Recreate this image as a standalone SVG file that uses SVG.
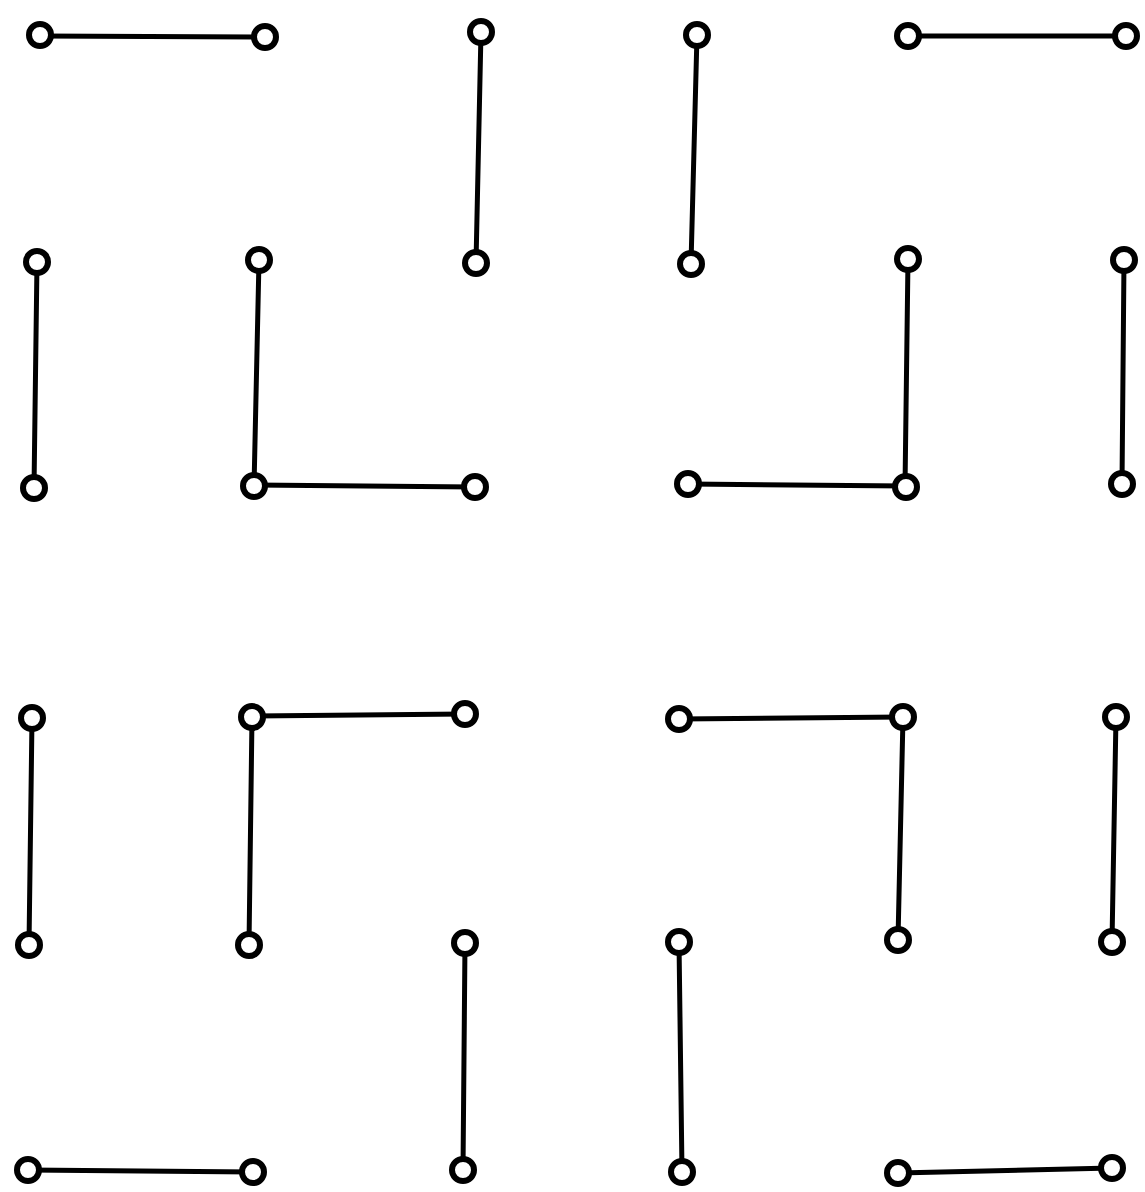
<svg xmlns="http://www.w3.org/2000/svg" width="1145" height="1192" viewBox="0 0 1145 1192">
<style>
.n{fill:#fff;stroke:#000;stroke-width:6}
.e{stroke:#000;stroke-width:5;fill:none;stroke-linecap:round}
</style>
<rect width="1145" height="1192" fill="#fff"/>
<g id="connectors">
<line class="e" x1="40" y1="36" x2="265" y2="37"/>
<line class="e" x1="481" y1="32" x2="476" y2="263"/>
<line class="e" x1="697" y1="35" x2="691" y2="264"/>
<line class="e" x1="908" y1="36" x2="1126" y2="36"/>
<line class="e" x1="37" y1="262" x2="34" y2="488"/>
<line class="e" x1="259" y1="260" x2="254" y2="487"/>
<line class="e" x1="254" y1="485" x2="475" y2="487"/>
<line class="e" x1="688" y1="484" x2="906" y2="486"/>
<line class="e" x1="908" y1="259" x2="905" y2="487"/>
<line class="e" x1="1124" y1="260" x2="1122" y2="484"/>
<line class="e" x1="32" y1="718" x2="29" y2="945"/>
<line class="e" x1="252" y1="716" x2="465" y2="714"/>
<line class="e" x1="252" y1="717" x2="249" y2="945"/>
<line class="e" x1="679" y1="719" x2="903" y2="717"/>
<line class="e" x1="903" y1="717" x2="898" y2="940"/>
<line class="e" x1="1116" y1="717" x2="1112" y2="942"/>
<line class="e" x1="465" y1="943" x2="463" y2="1170"/>
<line class="e" x1="679" y1="942" x2="682" y2="1172"/>
<line class="e" x1="28" y1="1170" x2="253" y2="1172"/>
<line class="e" x1="898" y1="1173" x2="1112" y2="1168"/>
</g>
<g id="n1"><circle class="n" cx="40" cy="35" r="11"/></g>
<g id="n2"><circle class="n" cx="265" cy="37" r="11"/></g>
<g id="n3"><circle class="n" cx="481" cy="32" r="11"/></g>
<g id="n4"><circle class="n" cx="697" cy="35" r="11"/></g>
<g id="n5"><circle class="n" cx="908" cy="36" r="11"/></g>
<g id="n6"><circle class="n" cx="1126" cy="36" r="11"/></g>
<g id="n7"><circle class="n" cx="37" cy="262" r="11"/></g>
<g id="n8"><circle class="n" cx="259" cy="260" r="11"/></g>
<g id="n9"><circle class="n" cx="476" cy="263" r="11"/></g>
<g id="n10"><circle class="n" cx="691" cy="264" r="11"/></g>
<g id="n11"><circle class="n" cx="908" cy="259" r="11"/></g>
<g id="n12"><circle class="n" cx="1124" cy="260" r="11"/></g>
<g id="n13"><circle class="n" cx="34" cy="488" r="11"/></g>
<g id="n14"><circle class="n" cx="254" cy="486" r="11"/></g>
<g id="n15"><circle class="n" cx="475" cy="487" r="11"/></g>
<g id="n16"><circle class="n" cx="688" cy="484" r="11"/></g>
<g id="n17"><circle class="n" cx="906" cy="487" r="11"/></g>
<g id="n18"><circle class="n" cx="1122" cy="484" r="11"/></g>
<g id="n19"><circle class="n" cx="32" cy="718" r="11"/></g>
<g id="n20"><circle class="n" cx="252" cy="717" r="11"/></g>
<g id="n21"><circle class="n" cx="465" cy="714" r="11"/></g>
<g id="n22"><circle class="n" cx="679" cy="719" r="11"/></g>
<g id="n23"><circle class="n" cx="903" cy="717" r="11"/></g>
<g id="n24"><circle class="n" cx="1116" cy="717" r="11"/></g>
<g id="n25"><circle class="n" cx="29" cy="945" r="11"/></g>
<g id="n26"><circle class="n" cx="249" cy="945" r="11"/></g>
<g id="n27"><circle class="n" cx="465" cy="943" r="11"/></g>
<g id="n28"><circle class="n" cx="679" cy="942" r="11"/></g>
<g id="n29"><circle class="n" cx="898" cy="940" r="11"/></g>
<g id="n30"><circle class="n" cx="1112" cy="942" r="11"/></g>
<g id="n31"><circle class="n" cx="28" cy="1170" r="11"/></g>
<g id="n32"><circle class="n" cx="253" cy="1172" r="11"/></g>
<g id="n33"><circle class="n" cx="463" cy="1170" r="11"/></g>
<g id="n34"><circle class="n" cx="682" cy="1172" r="11"/></g>
<g id="n35"><circle class="n" cx="898" cy="1173" r="11"/></g>
<g id="n36"><circle class="n" cx="1112" cy="1168" r="11"/></g>
</svg>
